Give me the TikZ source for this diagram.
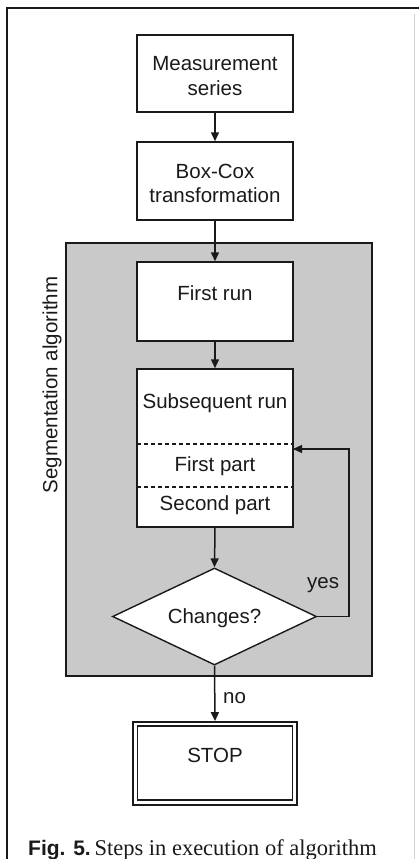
\documentclass[tikz,border=0pt]{standalone}
\usepackage{fontspec}
\setmainfont{Liberation Sans}
\newfontfamily\capserif{Liberation Serif}
\usetikzlibrary{arrows.meta,shapes.geometric}
\definecolor{regiongray}{HTML}{C9C9C9}
\definecolor{ink}{HTML}{1A1A1A}
\tikzset{
  boxnode/.style={draw=ink, line width=1.5pt, fill=white, inner sep=0pt},
  lbl/.style={text=ink, font=\fontsize{20.5}{24.5}\selectfont, inner sep=0pt, anchor=base},
  arr/.style={draw=ink, line width=1.5pt, -{Triangle[length=9pt,width=8pt]}},
  dashsep/.style={draw=ink, line width=1.4pt, dash pattern=on 4pt off 3pt},
}
\begin{document}
\begin{tikzpicture}[x=1pt,y=-1pt]
\useasboundingbox (0,0) rectangle (419,859);
\fill[white] (0,0) rectangle (419,859);
% outer frame
\draw[ink, line width=1.6pt] (7,859) -- (7,8) -- (419,8);
\draw[gray!35, line width=0.8pt] (414,14) -- (414,859);
% segmentation region
\node[draw=ink, line width=2.2pt, fill=regiongray, minimum width=306pt, minimum height=433pt, inner sep=0pt] (region) at (219,459.5) {};
\node[lbl, rotate=90, anchor=center] (seglbl) at (52,385) {Segmentation algorithm};
% boxes
\node[boxnode, minimum width=156pt, minimum height=77pt] (meas) at (215,73.5) {};
\node[lbl] (meast1) at (215,70.5) {Measurement};
\node[lbl] (meast2) at (215,95) {series};
\node[boxnode, minimum width=156pt, minimum height=78pt] (boxcox) at (215,181) {};
\node[lbl] (bct1) at (215,178) {Box-Cox};
\node[lbl] (bct2) at (215,202) {transformation};
\node[boxnode, minimum width=156pt, minimum height=79pt] (first) at (215,301.5) {};
\node[lbl] (firstt) at (215,300) {First run};
\node[boxnode, minimum width=156pt, minimum height=158pt] (subs) at (215,448) {};
\node[lbl] (subst) at (215,408) {Subsequent run};
\node[lbl] (fpart) at (215,471) {First part};
\node[lbl] (spart) at (215,510.5) {Second part};
\coordinate (d1l) at (137,444);
\coordinate (d1r) at (293,444);
\coordinate (d2l) at (137,487);
\coordinate (d2r) at (293,487);
\draw[dashsep] (d1l) -- (d1r);
\draw[dashsep] (d2l) -- (d2r);
% decision
\node[diamond, draw=ink, line width=1.4pt, fill=white, minimum width=204pt, minimum height=97pt, inner sep=0pt, aspect=2.1] (dec) at (214.5,616.5) {};
\node[lbl] (dect) at (214.5,623) {Changes?};
% stop
\node[boxnode, line width=1.8pt, minimum width=164pt, minimum height=83pt] (stop) at (215,763.5) {};
\node[draw=ink, line width=1.1pt, minimum width=155pt, minimum height=74pt, inner sep=0pt] (stopin) at (215,763) {};
\node[lbl] (stopt) at (215,762) {STOP};
% labels
\node[lbl, anchor=base west] (yes) at (307,588) {yes};
\node[lbl, anchor=base west] (no) at (223,703) {no};
% connectors
\draw[arr] (meas.south) -- (boxcox.north);
\draw[arr] (boxcox.south) -- (first.north);
\draw[arr] (first.south) -- (subs.north);
\draw[arr] (subs.south) -- (dec.north);
\draw[arr] (dec.south) -- (stop.north);
\coordinate (loopa) at (349,616.5);
\coordinate (loopb) at (349,449);
\coordinate (loopend) at (293,449);
\draw[arr, line width=1.2pt] (dec.east) -- (loopa) -- (loopb) -- (loopend);
% caption
\node[anchor=base west, inner sep=0pt, text=ink] (cap) at (28,855) {{\fontsize{21}{24}\selectfont\bfseries Fig. 5.} {\capserif\fontsize{22.5}{26}\selectfont Steps in execution of algorithm}};
\end{tikzpicture}
\end{document}
